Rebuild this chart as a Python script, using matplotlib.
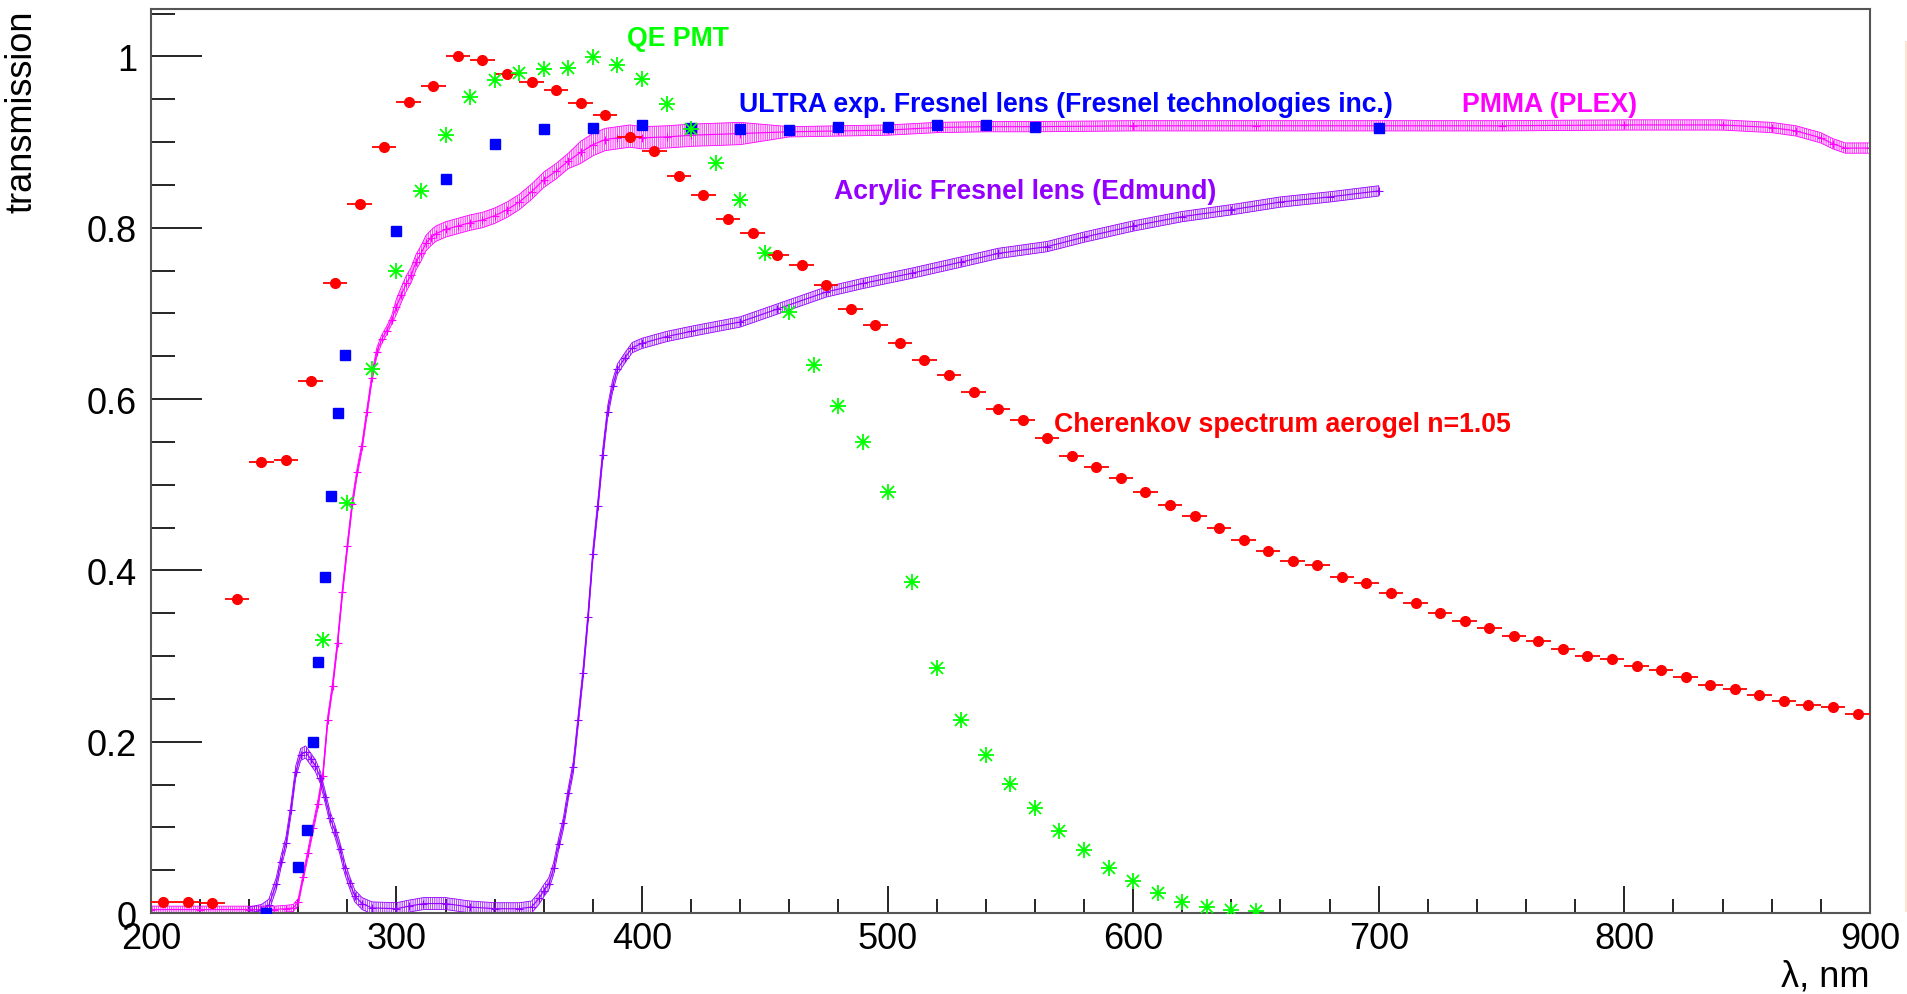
import matplotlib
matplotlib.use("Agg")
import matplotlib.pyplot as plt
from matplotlib.ticker import MultipleLocator, FuncFormatter
from matplotlib.patches import Rectangle

plt.rcParams['font.family'] = ['Liberation Sans', 'DejaVu Sans']
plt.rcParams['hatch.linewidth'] = 0.5

# Cherenkov spectrum in aerogel n=1.05 (10 nm bins, normalised)
cher_wl = list(range(205, 900, 10))
cher_val = [0.013, 0.013, 0.012, 0.366, 0.526, 0.529, 0.621, 0.735, 0.828, 0.894,
            0.947, 0.965, 1.000, 0.996, 0.980, 0.970, 0.961, 0.946, 0.932, 0.906,
            0.890, 0.860, 0.838, 0.810, 0.794, 0.768, 0.756, 0.733, 0.705, 0.686,
            0.666, 0.646, 0.628, 0.608, 0.588, 0.575, 0.555, 0.533, 0.521, 0.508,
            0.492, 0.476, 0.463, 0.449, 0.436, 0.423, 0.411, 0.406, 0.392, 0.385,
            0.374, 0.362, 0.350, 0.341, 0.333, 0.323, 0.318, 0.308, 0.300, 0.297,
            0.288, 0.284, 0.275, 0.266, 0.262, 0.255, 0.247, 0.243, 0.240, 0.232]

# PMT quantum efficiency (normalised)
qe_wl = list(range(270, 660, 10))
qe_val = [0.319, 0.479, 0.635, 0.749, 0.843, 0.908, 0.953, 0.973, 0.981, 0.985,
          0.986, 0.999, 0.990, 0.974, 0.945, 0.915, 0.876, 0.832, 0.771, 0.702,
          0.640, 0.592, 0.550, 0.492, 0.386, 0.286, 0.225, 0.184, 0.151, 0.123,
          0.096, 0.073, 0.053, 0.037, 0.023, 0.013, 0.007, 0.003, 0.002]

# ULTRA exp. Fresnel lens
ultra_wl = [247, 260, 263.5, 266, 268, 271, 273.5, 276, 279, 300, 320, 340,
            360, 380, 400, 420, 440, 460, 480, 500, 520, 540, 560, 700]
ultra_val = [0.000, 0.054, 0.097, 0.200, 0.293, 0.392, 0.487, 0.584, 0.652, 0.796,
             0.857, 0.898, 0.915, 0.917, 0.920, 0.917, 0.915, 0.914, 0.918, 0.918,
             0.920, 0.920, 0.918, 0.916]

# PMMA (PLEX) transmission
pmma_wl = [200, 220, 240, 250, 255, 258, 260, 262, 264, 266, 268, 270, 272, 274,
           276, 278, 280, 282, 284, 286, 288, 290, 292, 294, 296, 298, 300, 302,
           304, 306, 308, 310, 312, 314, 316, 320, 325, 330, 335, 340, 345, 350,
           355, 360, 365, 370, 375, 380, 385, 390, 395, 400, 410, 420, 440, 460,
           480, 500, 520, 540, 560, 600, 650, 700, 750, 800, 840, 860, 870, 880,
           885, 890, 900]
pmma_val = [0.004, 0.004, 0.004, 0.004, 0.005, 0.006, 0.013, 0.042, 0.070, 0.099,
            0.127, 0.160, 0.225, 0.265, 0.315, 0.375, 0.428, 0.478, 0.515, 0.545,
            0.585, 0.625, 0.655, 0.670, 0.680, 0.692, 0.708, 0.722, 0.735, 0.745,
            0.760, 0.770, 0.782, 0.788, 0.793, 0.798, 0.802, 0.806, 0.809, 0.814,
            0.821, 0.830, 0.842, 0.856, 0.866, 0.878, 0.888, 0.897, 0.903, 0.905,
            0.907, 0.905, 0.906, 0.908, 0.910, 0.912, 0.913, 0.914, 0.917, 0.918,
            0.918, 0.919, 0.919, 0.919, 0.919, 0.920, 0.920, 0.917, 0.913, 0.905,
            0.898, 0.893, 0.893]
pmma_err = [0.004] * 8 + [0.005] * 18 + [0.009] * 20 + [0.013] * 9 + [0.006] * 18

# Acrylic Fresnel lens (Edmund)
acr_wl = [240, 245, 248, 251, 253, 255, 257, 259, 261, 263, 265, 267, 269, 271,
          273, 275, 277, 279, 281, 283, 286, 290, 300, 305, 311, 320, 330, 340,
          350, 355, 358, 360, 362, 364, 366, 368, 370, 372, 374, 376, 378, 380,
          382, 384, 386, 388, 390, 393, 396, 400, 410, 420, 440, 455, 475, 490,
          510, 530, 545, 565, 580, 600, 620, 640, 660, 680, 700]
acr_val = [0.000, 0.003, 0.009, 0.034, 0.060, 0.082, 0.120, 0.165, 0.185, 0.188,
           0.180, 0.172, 0.158, 0.135, 0.111, 0.095, 0.075, 0.052, 0.035, 0.020,
           0.011, 0.006, 0.005, 0.008, 0.011, 0.011, 0.007, 0.005, 0.005, 0.007,
           0.017, 0.026, 0.034, 0.052, 0.080, 0.105, 0.140, 0.170, 0.225, 0.280,
           0.345, 0.419, 0.475, 0.535, 0.585, 0.615, 0.635, 0.648, 0.660, 0.665,
           0.673, 0.679, 0.690, 0.705, 0.725, 0.735, 0.747, 0.760, 0.770, 0.778,
           0.789, 0.802, 0.813, 0.821, 0.830, 0.836, 0.843]
acr_err = [0.007] * 46 + [0.006] * 21

C_RED = '#ff0000'
C_GREEN = '#00ff00'
C_BLUE = '#0000ff'
C_MAG = '#ff00ff'
C_VIOL = '#9400ff'

fig = plt.figure(figsize=(19.08, 9.95), dpi=100)
ax = fig.add_axes([0.0791, 0.0814, 0.9009, 0.9085])


def err_band(x, y, e, color):
    lo = [v - d for v, d in zip(y, e)]
    hi = [v + d for v, d in zip(y, e)]
    ax.fill_between(x, lo, hi, facecolor='none', edgecolor=color,
                    hatch='|' * 9, linewidth=0.6, zorder=2)
    ax.plot(x, y, color=color, lw=0.8, marker='+', ms=6, mew=0.8, zorder=2)


err_band(pmma_wl, pmma_val, pmma_err, C_MAG)
err_band(acr_wl, acr_val, acr_err, C_VIOL)

ax.errorbar(cher_wl, cher_val, xerr=5, fmt='o', color=C_RED, ms=7,
            elinewidth=1.3, capsize=0, zorder=4)
ax.plot(ultra_wl, ultra_val, 's', color=C_BLUE, ms=6.5, ls='none', zorder=4)
ax.plot(qe_wl, qe_val, '+', color=C_GREEN, ms=11.5, mew=1.3, ls='none', zorder=5)
ax.plot(qe_wl, qe_val, 'x', color=C_GREEN, ms=8.2, mew=1.3, ls='none', zorder=5)

labels = [
    (393.7, 1.021, 'QE PMT', C_GREEN),
    (439.5, 0.945, 'ULTRA exp. Fresnel lens (Fresnel technologies inc.)', C_BLUE),
    (733.9, 0.945, 'PMMA (PLEX)', C_MAG),
    (478.1, 0.843, 'Acrylic Fresnel lens (Edmund)', C_VIOL),
    (567.7, 0.571, 'Cherenkov spectrum aerogel n=1.05', C_RED),
]
for x, y, s, c in labels:
    ax.text(x, y, s, color=c, fontsize=19.2, fontweight='bold',
            ha='left', va='center', zorder=6)

ax.set_xlim(200, 900)
ax.set_ylim(0, 1.0553)
ax.xaxis.set_major_locator(MultipleLocator(100))
ax.xaxis.set_minor_locator(MultipleLocator(20))
ax.yaxis.set_major_locator(MultipleLocator(0.2))
ax.yaxis.set_minor_locator(MultipleLocator(0.05))
ax.yaxis.set_major_formatter(FuncFormatter(lambda v, p: f'{v:g}'))

ax.tick_params(axis='y', which='major', direction='in', length=37, width=1.2,
               labelsize=26, pad=10)
ax.tick_params(axis='y', which='minor', direction='in', length=17.6, width=1.2)
ax.tick_params(axis='x', which='major', direction='in', length=19.5, width=1.2,
               labelsize=26, pad=6)
ax.tick_params(axis='x', which='minor', direction='in', length=10, width=1.2)

for sp in ax.spines.values():
    sp.set_color('#555555')
    sp.set_linewidth(1.5)

ax.set_ylabel('transmission', fontsize=26, loc='top')
ax.yaxis.set_label_coords(-0.065, 1.0)
ax.set_xlabel('λ, nm', fontsize=26, loc='right')
ax.xaxis.set_label_coords(1.0, -0.05)

fig.add_artist(Rectangle((0.9984, 0.0824), 0.0016, 0.875, transform=fig.transFigure,
                         facecolor='#fce5d4', edgecolor='none'))

fig.savefig('out.png', dpi=100)
